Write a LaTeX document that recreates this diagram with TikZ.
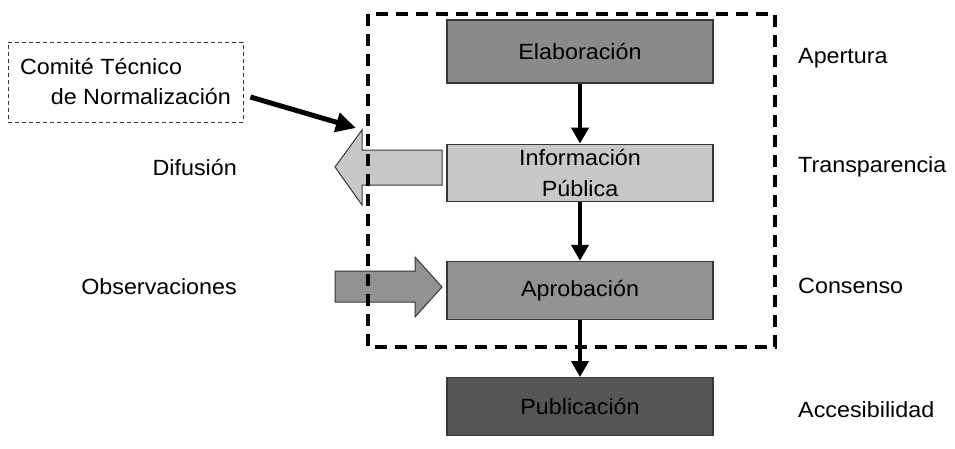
\documentclass[tikz,border=0pt]{standalone}
\usepackage{fontspec}
\setmainfont[FakeStretch=1.06]{Liberation Sans}
\usetikzlibrary{arrows.meta,positioning}
\definecolor{BoxEdge}{RGB}{55,55,55}
\definecolor{ElabGray}{RGB}{138,138,138}
\definecolor{InfoGray}{RGB}{200,200,200}
\definecolor{AprobGray}{RGB}{146,146,146}
\definecolor{PublGray}{RGB}{85,85,85}

\begin{document}
\begin{tikzpicture}[x=1pt,y=-1pt,
 stepbox/.style={draw=BoxEdge,line width=1.2pt,minimum width=266pt,
 inner sep=0pt,align=center,font=\fontsize{22}{31}\selectfont},
 sidetext/.style={inner sep=0pt,font=\fontsize{22}{31}\selectfont},
 flow/.style={-{Triangle[length=16pt,width=17pt]},line width=4pt},
 blockarrow/.style={draw=BoxEdge,line width=1pt}]
\useasboundingbox (0,0) rectangle (955,448);
% process steps
\node[stepbox,fill=ElabGray,minimum height=63pt] (elab) at (580,51.5) {Elaboración};
\node[stepbox,fill=InfoGray,minimum height=57pt,below=60pt of elab] (info) {Información\\Pública};
\node[stepbox,fill=AprobGray,minimum height=58pt,below=59pt of info] (aprob) {Aprobación};
\node[stepbox,fill=PublGray,minimum height=58pt,below=57pt of aprob] (publ) {Publicación};
\draw[flow] (elab) -- (info);
\draw[flow] (info) -- (aprob);
\draw[flow] (aprob) -- (publ);
% principles
\node[sidetext,anchor=west] (apertura) at (798,58) {Apertura};
\node[sidetext,anchor=west] (transp) at (798,167) {Transparencia};
\node[sidetext,anchor=west] (consenso) at (798,286) {Consenso};
\node[sidetext,anchor=west] (acces) at (798,410) {Accesibilidad};
% inputs and outputs
\node[sidetext,anchor=east] (difusion) at (237,168) {Difusión};
\node[sidetext,anchor=east] (observ) at (237,287) {Observaciones};
\draw[blockarrow,fill=InfoGray] (442,150) -- (362,150) -- (362,130) -- (335,167)
 -- (362,205) -- (362,185) -- (442,185) -- cycle;
\draw[blockarrow,fill=AprobGray] (335,271) -- (415,271) -- (415,257) -- (442,287)
 -- (415,317) -- (415,302) -- (335,302) -- cycle;
% committee
\node[draw=BoxEdge,line width=0.8pt,dash pattern=on 4pt off 3pt,minimum width=235pt,
 minimum height=80pt,align=left,font=\fontsize{22}{30}\selectfont] (comite) at (125.5,82)
 {Comité Técnico\\\hspace*{1.4em}de Normalización};
\coordinate (entry) at (356,128);
\draw[-{Triangle[length=20pt,width=19pt]},line width=5pt]
 ([xshift=7pt,yshift=-15pt]comite.east) -- (entry);
% scope of the committee
\draw[line width=3.5pt,dash pattern=on 12pt off 8pt] (368,14) rectangle (775,347);
\end{tikzpicture}
\end{document}
